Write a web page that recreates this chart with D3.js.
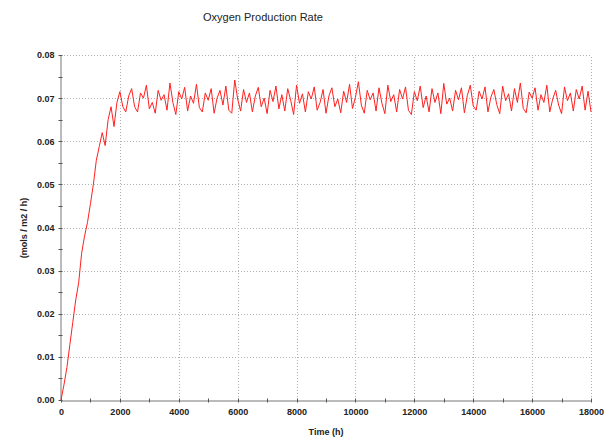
<!DOCTYPE html>
<html><head><meta charset="utf-8">
<script src="https://cdn.jsdelivr.net/npm/d3@7"></script>
<style>
body{margin:0;background:#fff;}
svg{display:block;}
text{font-family:"Liberation Sans",Arial,sans-serif;fill:#222;}
</style></head>
<body>
<script>
const title = "Oxygen Production Rate";
const xLabel = "Time (h)";
const yLabel = "(mols / m2 / h)";
const xTicks = [0,2000,4000,6000,8000,10000,12000,14000,16000,18000];
const yTicks = [0,0.01,0.02,0.03,0.04,0.05,0.06,0.07,0.08];
const timeStep = 100;
const rate = [
 0, 0.0035, 0.0075, 0.0128, 0.0180, 0.0232, 0.0272, 0.0340, 0.0380, 0.0412,
 0.0455, 0.0500, 0.0556, 0.0588, 0.0620, 0.0590, 0.0650, 0.0680, 0.0634, 0.0690,
 0.0715, 0.0680, 0.0668,
 0.0705, 0.0722, 0.0680, 0.0668, 0.0712, 0.0700, 0.0730, 0.0675, 0.0690, 0.0665,
 0.0718, 0.0695, 0.0708, 0.0672, 0.0735, 0.0690, 0.0662, 0.0715, 0.0698, 0.0725,
 0.0670, 0.0705, 0.0688, 0.0732, 0.0678, 0.0668, 0.0712, 0.0695, 0.0722, 0.0665,
 0.0700, 0.0718, 0.0684, 0.0728, 0.0672, 0.0665, 0.0742, 0.0698, 0.0670, 0.0720,
 0.0690, 0.0712, 0.0668, 0.0705, 0.0725, 0.0680, 0.0700, 0.0664, 0.0718, 0.0692,
 0.0728, 0.0675, 0.0708, 0.0670, 0.0722, 0.0695, 0.0662, 0.0730, 0.0688, 0.0710,
 0.0668, 0.0715, 0.0698, 0.0726, 0.0672, 0.0690, 0.0720, 0.0665, 0.0705, 0.0724,
 0.0680, 0.0698, 0.0666, 0.0716, 0.0690, 0.0732, 0.0676, 0.0702, 0.0738, 0.0684,
 0.0665, 0.0718, 0.0696, 0.0712, 0.0670, 0.0724, 0.0688, 0.0664, 0.0730, 0.0692,
 0.0708, 0.0668, 0.0720, 0.0698, 0.0726, 0.0672, 0.0662, 0.0715, 0.0694, 0.0728,
 0.0678, 0.0705, 0.0668, 0.0722, 0.0690, 0.0712, 0.0664, 0.0734, 0.0686, 0.0700,
 0.0670, 0.0718, 0.0696, 0.0724, 0.0666, 0.0706, 0.0730, 0.0682, 0.0672, 0.0716,
 0.0698, 0.0726, 0.0668, 0.0702, 0.0720, 0.0685, 0.0664, 0.0728, 0.0694, 0.0710,
 0.0670, 0.0722, 0.0690, 0.0735, 0.0676, 0.0666, 0.0714, 0.0700, 0.0724, 0.0672,
 0.0708, 0.0690, 0.0730, 0.0668, 0.0698, 0.0718, 0.0684, 0.0664, 0.0726, 0.0694,
 0.0712, 0.0670, 0.0720, 0.0698, 0.0728, 0.0672, 0.0716, 0.0668
];
const data = rate.map((v,i)=>({t:i*timeStep, v}));

const W=614,H=439;
const svg=d3.select("body").append("svg").attr("width",W).attr("height",H);
const x=d3.scaleLinear().domain([0,18000]).range([61,591]);
const y=d3.scaleLinear().domain([0,0.08]).range([400,55]);

// grid
const grid=svg.append("g").attr("stroke","#b0b0b0").attr("stroke-width",1).attr("stroke-dasharray","1,2");
grid.selectAll("line.v").data(xTicks.slice(1)).join("line")
  .attr("x1",d=>Math.round(x(d))+0.5).attr("x2",d=>Math.round(x(d))+0.5)
  .attr("y1",y(0)).attr("y2",y(0.08));
grid.selectAll("line.h").data(yTicks.slice(1)).join("line")
  .attr("y1",d=>Math.round(y(d))+0.5).attr("y2",d=>Math.round(y(d))+0.5)
  .attr("x1",x(0)).attr("x2",x(18000));

// axes
const xAxis=d3.axisBottom(x).tickValues(xTicks).tickFormat(d3.format("d")).tickSize(0).tickPadding(8);
const gx=svg.append("g").attr("transform",`translate(0,${Math.round(y(0))+0.5})`).call(xAxis);
gx.select(".domain").attr("stroke","#777");
gx.selectAll("text").attr("font-size",9).attr("font-weight","bold").attr("fill","#333");
const xMinor=d3.range(0,18001,1000);
gx.selectAll("line.mt").data(xMinor).join("line").attr("class","mt")
  .attr("x1",d=>Math.round(x(d))+0.5).attr("x2",d=>Math.round(x(d))+0.5)
  .attr("y1",-2).attr("y2",2).attr("stroke","#555");

const yAxis=d3.axisLeft(y).tickValues(yTicks).tickFormat(d3.format(".2f")).tickSize(0).tickPadding(6);
const gy=svg.append("g").attr("transform",`translate(${Math.round(x(0))-0.5},0)`).call(yAxis);
gy.select(".domain").attr("stroke","#777");
gy.selectAll("text").attr("font-size",9).attr("font-weight","bold").attr("fill","#333");
const yMinor=d3.range(0,0.0801,0.005);
gy.selectAll("line.mt").data(yMinor).join("line").attr("class","mt")
  .attr("y1",d=>Math.round(y(d))+0.5).attr("y2",d=>Math.round(y(d))+0.5)
  .attr("x1",-2).attr("x2",2).attr("stroke","#555");

// line
svg.append("path").datum(data)
  .attr("fill","none").attr("stroke","#ff2020").attr("stroke-width",1)
  .attr("d",d3.line().x(d=>x(d.t)).y(d=>y(d.v)));

// texts
svg.append("text").attr("x",263).attr("y",21).attr("text-anchor","middle")
  .attr("font-size",11).text(title);
svg.append("text").attr("x",326).attr("y",435).attr("text-anchor","middle")
  .attr("font-size",9).attr("font-weight","bold").attr("fill","#333").text(xLabel);
svg.append("text").attr("transform","translate(27,228) rotate(-90)").attr("text-anchor","middle")
  .attr("font-size",9).attr("font-weight","bold").attr("fill","#333").text(yLabel);
</script>
</body></html>
